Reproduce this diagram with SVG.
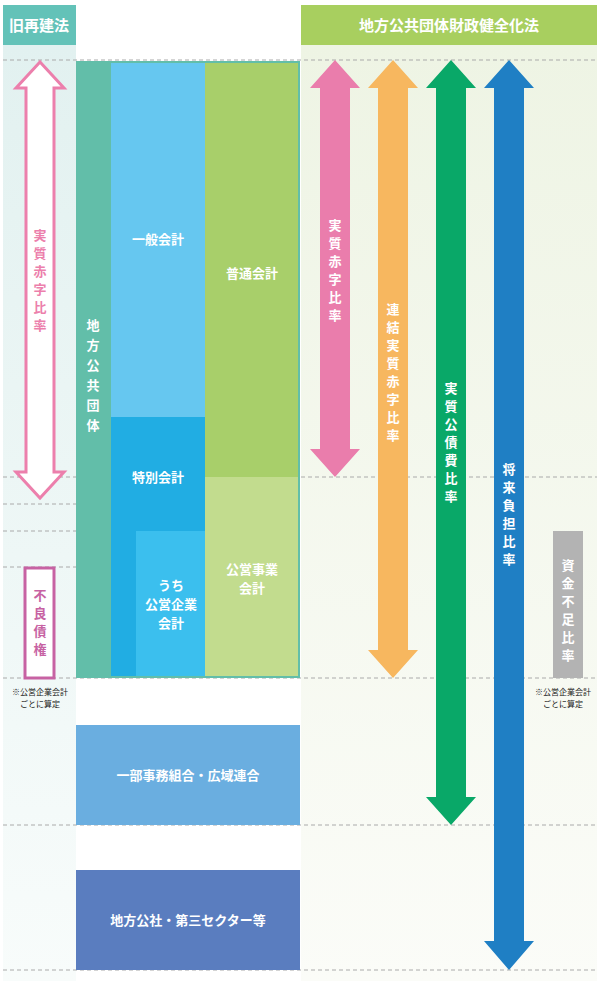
<svg xmlns="http://www.w3.org/2000/svg" width="600" height="981" viewBox="0 0 600 981">
<defs>
<linearGradient id="gl" x1="0" y1="0" x2="0" y2="1"><stop offset="0" stop-color="#e2f1f0"/><stop offset="1" stop-color="#f8fcfb"/></linearGradient>
<linearGradient id="gr" x1="0" y1="0" x2="0" y2="1"><stop offset="0" stop-color="#eef4e4"/><stop offset="1" stop-color="#fbfcf8"/></linearGradient>
</defs>
<style>
text{font-family:"Noto Sans CJK JP","Noto Sans",sans-serif;font-weight:bold;fill:#fff;text-anchor:middle}
.h{font-size:15px}.t{font-size:13px}.s{font-size:8px;fill:#222;font-weight:normal}
.d{stroke:#aaa;stroke-dasharray:4 3;stroke-width:1}
</style>
<rect x="3" y="45" width="73" height="936" fill="url(#gl)"/>
<rect x="301" y="45" width="296" height="936" fill="url(#gr)"/>
<g id="headers">
<rect x="3" y="5" width="73" height="40" fill="#63c2b8"/><text class="h" x="39" y="31">旧再建法</text>
<rect x="301" y="5" width="296" height="40" fill="#a8cf5f"/><text class="h" x="449" y="31">地方公共団体財政健全化法</text>
</g>
<g id="lines">
<line class="d" x1="3" y1="60" x2="597" y2="60"/>
<line class="d" x1="3" y1="477" x2="76" y2="477"/><line class="d" x1="301" y1="477" x2="597" y2="477"/>
<line class="d" x1="3" y1="504" x2="76" y2="504"/>
<line class="d" x1="3" y1="531" x2="76" y2="531"/>
<line class="d" x1="3" y1="567" x2="76" y2="567"/>
<line class="d" x1="3" y1="678" x2="597" y2="678"/>
<line class="d" x1="3" y1="825" x2="597" y2="825"/>
<line class="d" x1="3" y1="970" x2="597" y2="970"/>
</g>
<g id="main">
<rect x="76" y="61" width="224" height="617" fill="#62bea9"/>
<text class="t" x="93" y="330">地</text><text class="t" x="93" y="350">方</text><text class="t" x="93" y="370">公</text><text class="t" x="93" y="390">共</text><text class="t" x="93" y="410">団</text><text class="t" x="93" y="430">体</text>
</g>
<g id="ippan"><rect x="111" y="63" width="94" height="354" fill="#66c7f0"/><text class="t" x="158" y="244">一般会計</text></g>
<g id="tokubetsu"><rect x="111" y="417" width="94" height="259" fill="#21ade3"/><text class="t" x="158" y="482">特別会計</text></g>
<g id="uchi"><rect x="136" y="531" width="69" height="145" fill="#3bbfee"/><text class="t" x="171" y="590">うち</text><text class="t" x="171" y="609">公営企業</text><text class="t" x="171" y="628">会計</text></g>
<g id="futsu"><rect x="205" y="63" width="93" height="414" fill="#a8cf6a"/><text class="t" x="252" y="278">普通会計</text></g>
<g id="koei"><rect x="205" y="477" width="93" height="199" fill="#c2dc8e"/><text class="t" x="252" y="574">公営事業</text><text class="t" x="252" y="593">会計</text></g>
<g id="ichibu"><rect x="76" y="725" width="224" height="100" fill="#6aaee0"/><text class="t" x="188" y="780">一部事務組合・広域連合</text></g>
<g id="kosha"><rect x="76" y="870" width="224" height="100" fill="#5a7dbf"/><text class="t" x="188" y="925">地方公社・第三セクター等</text></g>
<g id="connectors">
<path d="M40 62 L64 88 L54 88 L54 472 L64 472 L40 498 L16 472 L26 472 L26 88 L16 88 Z" fill="#fff" stroke="#ec7fac" stroke-width="3"/>
<path d="M335 60 L360 88 L350 88 L350 449 L360 449 L335 477 L310 449 L320 449 L320 88 L310 88 Z" fill="#ea7dac"/>
<path d="M393 60 L418 88 L408 88 L408 650 L418 650 L393 678 L368 650 L378 650 L378 88 L368 88 Z" fill="#f7b75f"/>
<path d="M451 60 L476 88 L466 88 L466 797 L476 797 L451 825 L426 797 L436 797 L436 88 L426 88 Z" fill="#09a868"/>
<path d="M509 60 L534 88 L524 88 L524 941 L534 941 L509 970 L484 941 L494 941 L494 88 L484 88 Z" fill="#1f7fc4"/>
</g>
<g id="label-left"><text class="t" fill="#ec7fac" style="fill:#ec7fac" x="40" y="240">実</text><text class="t" style="fill:#ec7fac" x="40" y="258">質</text><text class="t" style="fill:#ec7fac" x="40" y="276">赤</text><text class="t" style="fill:#ec7fac" x="40" y="294">字</text><text class="t" style="fill:#ec7fac" x="40" y="312">比</text><text class="t" style="fill:#ec7fac" x="40" y="330">率</text></g>
<g id="furyo"><rect x="25" y="568" width="29" height="110" fill="#fff" stroke="#c762a3" stroke-width="3"/>
<text class="t" style="fill:#c762a3" x="40" y="600">不</text><text class="t" style="fill:#c762a3" x="40" y="618">良</text><text class="t" style="fill:#c762a3" x="40" y="636">債</text><text class="t" style="fill:#c762a3" x="40" y="654">権</text></g>
<text class="s" x="40" y="695">※公営企業会計</text><text class="s" x="40" y="707">ごとに算定</text>
<g id="r1"><text class="t" x="335" y="230">実</text><text class="t" x="335" y="248">質</text><text class="t" x="335" y="266">赤</text><text class="t" x="335" y="284">字</text><text class="t" x="335" y="302">比</text><text class="t" x="335" y="320">率</text></g>
<g id="r2"><text class="t" x="393" y="314">連</text><text class="t" x="393" y="332">結</text><text class="t" x="393" y="350">実</text><text class="t" x="393" y="368">質</text><text class="t" x="393" y="386">赤</text><text class="t" x="393" y="404">字</text><text class="t" x="393" y="422">比</text><text class="t" x="393" y="440">率</text></g>
<g id="r3"><text class="t" x="451" y="393">実</text><text class="t" x="451" y="411">質</text><text class="t" x="451" y="429">公</text><text class="t" x="451" y="447">債</text><text class="t" x="451" y="465">費</text><text class="t" x="451" y="483">比</text><text class="t" x="451" y="501">率</text></g>
<g id="r4"><text class="t" x="509" y="474">将</text><text class="t" x="509" y="492">来</text><text class="t" x="509" y="510">負</text><text class="t" x="509" y="528">担</text><text class="t" x="509" y="546">比</text><text class="t" x="509" y="564">率</text></g>
<g id="shikin"><rect x="553" y="531" width="30" height="147" fill="#b3b3b3"/>
<text class="t" x="568" y="570">資</text><text class="t" x="568" y="588">金</text><text class="t" x="568" y="606">不</text><text class="t" x="568" y="624">足</text><text class="t" x="568" y="642">比</text><text class="t" x="568" y="660">率</text></g>
<text class="s" x="563" y="695">※公営企業会計</text><text class="s" x="563" y="707">ごとに算定</text>
</svg>
